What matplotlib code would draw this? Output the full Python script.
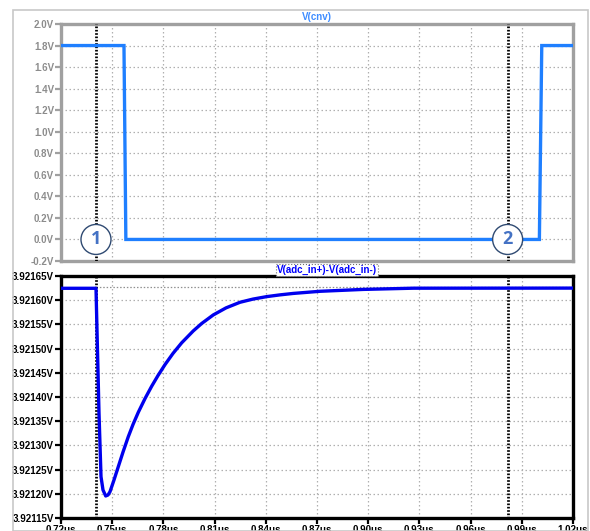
import matplotlib
matplotlib.use("Agg")
import matplotlib.pyplot as plt
from matplotlib.patches import Rectangle, Circle

plt.rcParams['font.family'] = ['Liberation Sans', 'DejaVu Sans']

# V(cnv) trace
cnv_t = [0.72, 0.7569, 0.758, 1.0003, 1.0017, 1.02]
cnv_v = [1.8, 1.8, 0.0, 0.0, 1.8, 1.8]

# V(adc_in+)-V(adc_in-) trace
adc_t = [0.72, 0.74051, 0.74109, 0.74227, 0.74344, 0.74461, 0.74619, 0.74754,
         0.74871, 0.75105, 0.75357, 0.75633, 0.75943, 0.76219, 0.76529,
         0.76922, 0.77314, 0.77684, 0.78094, 0.78563, 0.79072, 0.79752,
         0.80244, 0.80924, 0.81668, 0.82488, 0.8325, 0.84053, 0.84832,
         0.85611, 0.87176, 0.89713, 0.92643, 1.02]
adc_v = [3.9216246, 3.9216246, 3.9215384, 3.9213669, 3.9212353, 3.9212079,
         3.9211955, 3.9211975, 3.9212043, 3.9212285, 3.9212560, 3.9212862,
         3.9213180, 3.9213432, 3.9213684, 3.9213967, 3.9214223, 3.9214444,
         3.9214669, 3.9214901, 3.9215120, 3.9215366, 3.9215519, 3.9215696,
         3.9215841, 3.9215957, 3.9216023, 3.9216074, 3.9216110, 3.9216140,
         3.9216184, 3.9216223, 3.9216248, 3.9216250]

cursors = [0.7405, 0.9817]
cursor_names = ["1", "2"]

xticks = [0.72, 0.75, 0.78, 0.81, 0.84, 0.87, 0.90, 0.93, 0.96, 0.99, 1.02]
top_yticks = [-0.2, 0.0, 0.2, 0.4, 0.6, 0.8, 1.0, 1.2, 1.4, 1.6, 1.8, 2.0]
bot_yticks = [3.92115, 3.92120, 3.92125, 3.92130, 3.92135, 3.92140,
              3.92145, 3.92150, 3.92155, 3.92160, 3.92165]

W, H = 590, 531
fig = plt.figure(figsize=(W / 100, H / 100), dpi=100)


def fx(px):
    return px / W


def fy(py):
    return 1 - py / H


# outer light frame
fig.add_artist(Rectangle((fx(13), 0), fx(575), fy(10), transform=fig.transFigure,
                         fill=False, ec="#c8c8c8", lw=1.2))

ax1 = fig.add_axes([fx(61), fy(261), fx(573) - fx(61), fy(24) - fy(261)])
ax2 = fig.add_axes([fx(61), fy(518), fx(573) - fx(61), fy(276) - fy(518)])

grid_kw = dict(color="#b0b0b0", lw=0.9, linestyle=(0, (1.2, 2)))

for ax, frame, lab_color in ((ax1, "#a0a0a0", "#8c8c8c"), (ax2, "black", "black")):
    ax.set_xlim(0.72, 1.02)
    ax.set_xticks(xticks)
    for s in ax.spines.values():
        s.set_color(frame)
        s.set_linewidth(2.4)
    ax.grid(True, **grid_kw)
    ax.set_axisbelow(True)
    ax.tick_params(axis="both", direction="out", length=4, width=1.6,
                   color=frame, labelsize=7, labelcolor=lab_color, pad=1)
    for c in cursors:
        ax.axvline(c, color="black", lw=2.0, linestyle=(0, (0.6, 0.6)), zorder=4)

# top panel
ax1.set_ylim(-0.2, 2.0)
ax1.set_yticks(top_yticks)
ax1.set_yticklabels([f"{v:.1f}V" for v in top_yticks], fontweight="bold")
ax1.tick_params(axis="x", labelbottom=False, length=0)
ax1.plot(cnv_t, cnv_v, color="#1f7fff", lw=2.4, zorder=5,
         solid_joinstyle="miter")
fig.text(fx(317), fy(17), "V(cnv)", color="#3d8cff", fontsize=7,
         fontweight="bold", ha="center", va="center")

# cursor circles
for c, name in zip(cursors, cursor_names):
    xpix = ax1.transData.transform((c, 0.0))
    fig.add_artist(Circle(xpix, 15, transform=None, fc="white", ec="#2f4a72",
                          lw=1.0, zorder=10))
    fig.text(xpix[0] / W, xpix[1] / H, name, color="#4472c4", fontsize=13,
             fontweight="bold", ha="center", va="center", zorder=11,
             family=["Open Sans", "DejaVu Sans"])

# bottom panel
ax2.set_ylim(3.92115, 3.92165)
ax2.set_yticks(bot_yticks)
ax2.set_yticklabels([f"{v:.5f}V" for v in bot_yticks], fontweight="bold")
ax2.set_xticklabels([f"{v:.2f}us" for v in xticks], fontweight="bold")
ax2.tick_params(axis="x", pad=1)
ax2.plot([cursors[0], 1.02], [adc_v[0] + 0.0000025] * 2, color="#909090",
         lw=0.9, linestyle=(0, (1.2, 1.5)), zorder=3)
ax2.plot(adc_t, adc_v, color="#0000ee", lw=2.4, zorder=5,
         solid_joinstyle="round")
t2 = fig.text(fx(327), fy(270), "V(adc_in+)-V(adc_in-)", color="#0000ff",
              fontsize=7, fontweight="bold", ha="center", va="center")
t2.set_bbox(dict(fc="white", ec="#707070", lw=0.8, linestyle=":", pad=0.6))

fig.savefig("out.png", dpi=100)
